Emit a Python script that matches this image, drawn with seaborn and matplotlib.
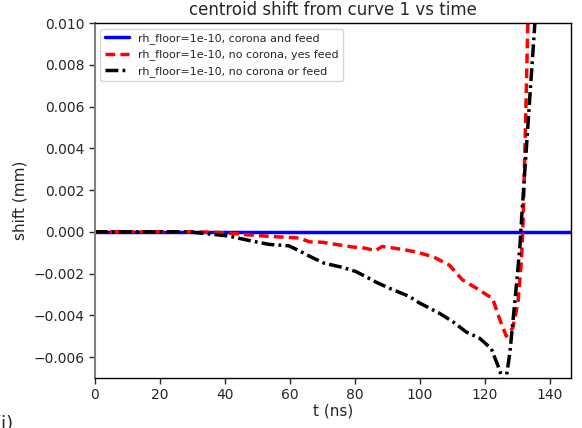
import matplotlib
matplotlib.use("Agg")
import matplotlib.pyplot as plt
import seaborn as sns

sns.set_style("white")
plt.rcParams['font.family'] = ['DejaVu Sans']

t_blue = [0, 150]
y_blue = [0.0, 0.0]

t_red = [0, 10, 20, 30, 38, 44, 50, 55, 60, 63, 66, 70, 74, 79, 83, 86.4, 88.4, 92, 96, 99.2,
         104.2, 109.1, 113.1, 117.4, 122.4, 124.6, 126.6, 128.6, 130.2, 131.3, 131.8, 132.5, 133.2, 134]
y_red = [0, 0, 0, 0, -0.00003, -0.0001, -0.00018, -0.00023, -0.00027, -0.0003, -0.00048, -0.0005,
         -0.0006, -0.00072, -0.00078, -0.0009, -0.0007, -0.00078, -0.00088, -0.00098,
         -0.0012, -0.0016, -0.0023, -0.0027, -0.0032, -0.0042, -0.005, -0.0046, -0.0034,
         -0.0013, 0.0006, 0.005, 0.0098, 0.0125]

t_black = [0, 10, 20, 28.7, 35, 41.1, 47, 53.5, 59.7, 62.8, 65.8, 70.5, 76.1, 80.3, 84, 86.4, 90.6,
           96.8, 99.8, 106, 110.1, 114.3, 118.4, 122, 124, 125.1, 125.8, 126.4, 127.7, 128.7,
           129.7, 130.8, 131.3, 133.3, 135.4, 136]
y_black = [0, 0, 0, 0, -0.0001, -0.0002, -0.0004, -0.0006, -0.00067, -0.0009, -0.00115, -0.0015,
           -0.0017, -0.0019, -0.0022, -0.0024, -0.0027, -0.0031, -0.0034, -0.0039, -0.0043,
           -0.0048, -0.0051, -0.0056, -0.0064, -0.0069, -0.0073, -0.0072, -0.0058, -0.0042,
           -0.0026, -0.0007, 0.0006, 0.0052, 0.0100, 0.0113]

labels = ["rh_floor=1e-10, corona and feed",
          "rh_floor=1e-10, no corona, yes feed",
          "rh_floor=1e-10, no corona or feed"]

fig = plt.figure(figsize=(5.82, 4.28), dpi=100)
ax = fig.add_axes([0.163, 0.117, 0.818, 0.829])

sns.lineplot(x=t_blue, y=y_blue, ax=ax, color="blue", lw=2.5, label=labels[0])
sns.lineplot(x=t_red, y=y_red, ax=ax, color="red", lw=2.5, label=labels[1], linestyle="--")
sns.lineplot(x=t_black, y=y_black, ax=ax, color="black", lw=2.5, label=labels[2], linestyle="-.")
ax.lines[1].set_dashes([2.8, 1.5])
ax.lines[2].set_dashes([3.7, 1.2, 0.8, 1.2])

ax.set_xlim(0, 146.5)
ax.set_ylim(-0.007, 0.010)
ax.set_xticks([0, 20, 40, 60, 80, 100, 120, 140])
ax.set_yticks([-0.006, -0.004, -0.002, 0.0, 0.002, 0.004, 0.006, 0.008, 0.010])
ax.set_yticklabels(["\u22120.006", "\u22120.004", "\u22120.002", "0.000", "0.002", "0.004",
                    "0.006", "0.008", "0.010"])
ax.tick_params(axis="both", which="both", direction="out", length=4, width=1, labelsize=10,
               bottom=True, left=True)
ax.set_xlabel("t (ns)", fontsize=11, labelpad=1)
ax.set_ylabel("shift (mm)", fontsize=11)
ax.set_title("centroid shift from curve 1 vs time", fontsize=12)
for s in ["top", "right", "bottom"]:
    ax.spines[s].set_color("black")
    ax.spines[s].set_linewidth(1)
ax.spines["left"].set_color("gray")
ax.spines["left"].set_linewidth(1.5)

leg = ax.legend(loc="upper left", fontsize=8, frameon=True, handlelength=2.2)
for h in leg.get_lines():
    h.set_linewidth(2.5)

fig.text(-0.01, -0.012, "(i)", fontsize=13, ha="left", va="bottom")

fig.savefig("out.png", dpi=100)
